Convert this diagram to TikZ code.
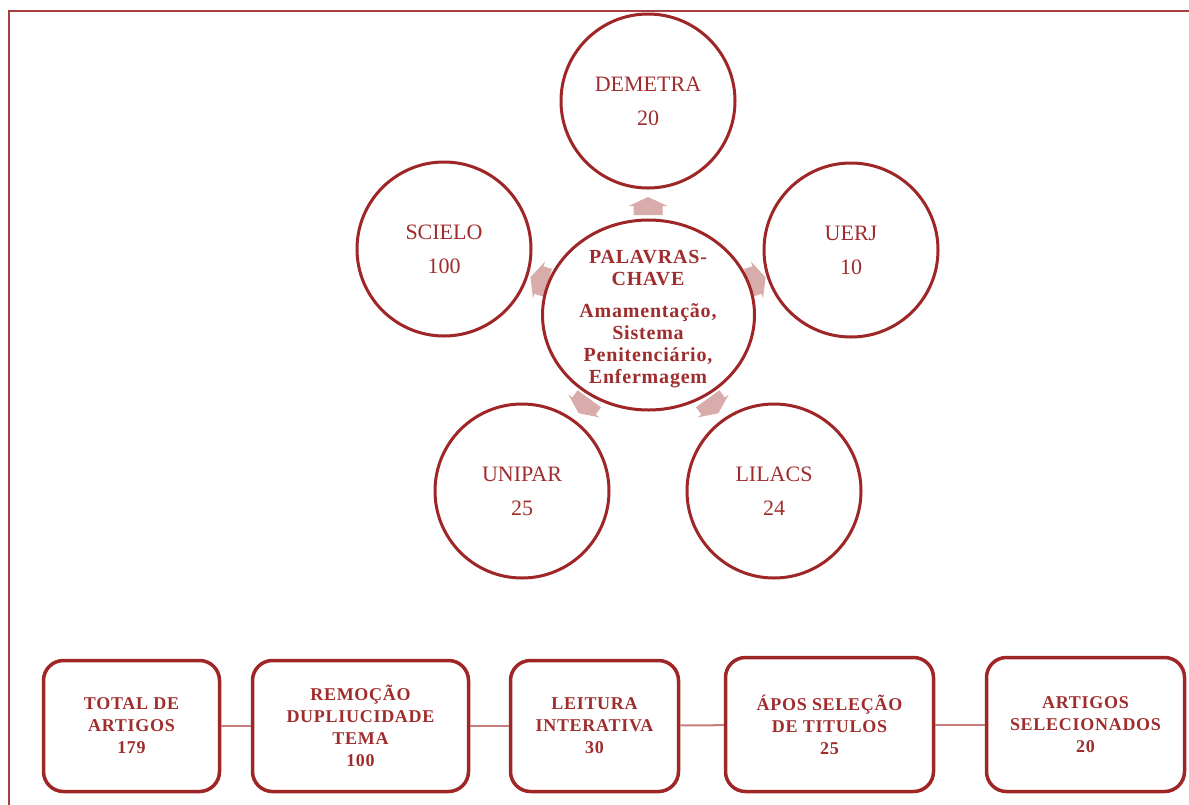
\documentclass[tikz,border=0pt]{standalone}
\usepackage{fontspec}
\setmainfont{Liberation Serif}
\newfontfamily\spacedserif[LetterSpace=4]{Liberation Serif}
\usetikzlibrary{shapes.geometric}
\definecolor{wine}{RGB}{158,38,38}
\definecolor{winetext}{RGB}{160,45,45}
\definecolor{arrowfill}{RGB}{217,172,172}
\definecolor{linkcol}{RGB}{200,125,125}
\definecolor{framecol}{RGB}{168,62,62}
\tikzset{
  x=1pt, y=-1pt,
  outer/.style={circle, draw=wine, line width=3pt, fill=white, minimum size=174pt, inner sep=0pt,
    align=center, text=winetext, font=\fontsize{22}{34}\selectfont},
  hub/.style={ellipse, draw=wine, line width=3pt, fill=white, minimum width=212pt, minimum height=190pt, inner sep=0pt},
  hubtext/.style={align=center, text=winetext, inner sep=0pt, font=\spacedserif\bfseries\fontsize{20}{22}\selectfont},
  stepbox/.style={rectangle, rounded corners=20pt, draw=wine, line width=3.5pt, fill=white, inner sep=0pt,
    align=center, text=winetext, font=\spacedserif\bfseries\fontsize{18}{22}\selectfont},
  link/.style={draw=linkcol, line width=2pt},
  frame/.style={draw=framecol, line width=2pt},
  blockarrow/.pic={\fill[arrowfill] (-9,-14.5) -- (0,-14.5) -- (0,-19.5) -- (9,0) -- (0,19.5) -- (0,14.5) -- (-9,14.5) -- cycle;}
}
\begin{document}
\begin{tikzpicture}
\useasboundingbox (0,0) rectangle (1189,804);
\fill[white] (0,0) rectangle (1189,804);
\draw[frame] (8.5,806) -- (8.5,11) -- (1191,11);

% block arrows (behind circles)
\pic[rotate=90]   at (648,206) {blockarrow};
\pic[rotate=162]  at (539,280) {blockarrow};
\pic[rotate=18]   at (757,280) {blockarrow};
\pic[rotate=234]  at (584,406) {blockarrow};
\pic[rotate=-54]  at (713,406) {blockarrow};

% central hub
\node[hub] (hub) at (648.5,315) {};
\node[hubtext] (hubtitle) at (648,268) {PALAVRAS-\\CHAVE};
\node[hubtext] (hubbody) at (648,346) {Amamentação,\\Sistema\\Penitenciário,\\Enfermagem};

% outer circles
\node[outer] (demetra) at (648,101) {DEMETRA\\20};
\node[outer] (scielo)  at (444,249) {SCIELO\\100};
\node[outer] (uerj)    at (851,250) {UERJ\\10};
\node[outer] (unipar)  at (522,491) {UNIPAR\\25};
\node[outer] (lilacs)  at (774,491) {LILACS\\24};

% bottom flow
\node[stepbox, minimum width=176pt, minimum height=131pt] (b1) at (131.5,726) {TOTAL DE\\ARTIGOS\\179};
\node[stepbox, minimum width=216pt, minimum height=131pt] (b2) at (360.5,726) {REMOÇÃO\\DUPLIUCIDADE\\TEMA\\100};
\node[stepbox, minimum width=168pt, minimum height=131pt] (b3) at (594.5,726) {LEITURA\\INTERATIVA\\30};
\node[stepbox, minimum width=208pt, minimum height=134pt] (b4) at (829.5,724.5) {ÁPOS SELEÇÃO\\DE TITULOS\\25};
\node[stepbox, minimum width=198pt, minimum height=134pt] (b5) at (1085.5,724.5) {ARTIGOS\\SELECIONADOS\\20};

\draw[link] (b1) -- (b2);
\draw[link] (b2) -- (b3);
\draw[link] (b3) -- (b4);
\draw[link] (b4) -- (b5);
\end{tikzpicture}
\end{document}
